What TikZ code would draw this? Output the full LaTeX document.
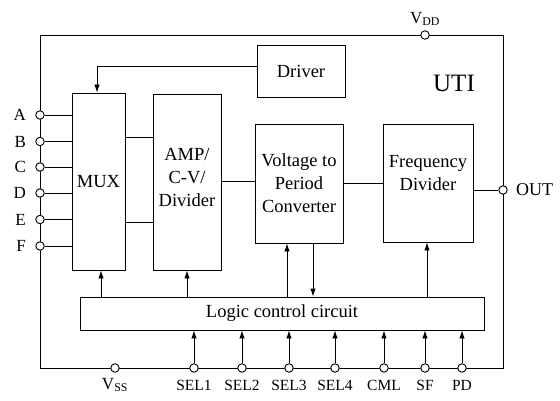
\documentclass[tikz,border=0pt]{standalone}
\usepackage{fontspec}
\setmainfont{Liberation Serif}
\usetikzlibrary{arrows.meta, positioning}

\tikzset{
  blk/.style={draw, inner sep=2pt, align=center, font=\fontsize{18.5}{23}\selectfont},
  blktext/.style={align=center, font=\fontsize{18.5}{23}\selectfont},
  pin/.style={circle, draw, fill=white, inner sep=0pt, minimum size=8.5pt},
  lbl/.style={font=\fontsize{17}{20}\selectfont, inner sep=1pt},
  sel/.style={font=\fontsize{15.5}{18}\selectfont, inner sep=1pt},
  arr/.style={-{Latex[length=8pt,width=5.5pt]}},
}

\begin{document}
\begin{tikzpicture}[x=1pt, y=-1pt, line width=0.9pt]
\useasboundingbox (0,0) rectangle (560,401);
\coordinate (tl) at (40,35);
\coordinate (br) at (503,368);
\draw (tl) rectangle (br);

\node[blk, minimum width=88, minimum height=52] (driver) at (301,71) {Driver};
\node[blk, minimum width=53, minimum height=177] (mux) at (98.5,181.5) {MUX};
\node[blk, minimum width=68, minimum height=176, label={[blktext, yshift=5pt]center:AMP/\\C-V/\\Divider}] (amp) at (187,182) {};
\node[blk, minimum width=88, minimum height=119] (vtp) at (299,183.5) {Voltage to\\Period\\Converter};
\node[blk, minimum width=90, minimum height=118, label={[blktext, yshift=10pt]center:Frequency\\Divider}] (fdiv) at (428,183) {};
\node[blk, minimum width=404, minimum height=33] (logic) at (282,313.5) {Logic control circuit};
\node[font=\fontsize{25}{30}\selectfont] (uti) at (454,83) {UTI};

\node[pin, label={[lbl, label distance=3]above:V\textsubscript{DD}}] (vdd) at (425,35) {};
\node[pin, label={[lbl, font=\fontsize{18}{20}\selectfont, label distance=7]right:OUT}] (out) at (503,190) {};
\node[pin, label={[lbl, label distance=4]below:V\textsubscript{SS}}] (vss) at (115,368) {};

\foreach \n/\y in {A/115,B/141.5,C/167,D/193,E/219.5,F/246} {
  \node[pin, label={[lbl, label distance=8]left:\n}] (in\n) at (40,\y) {};
  \draw (in\n) -- (in\n -| mux.west);
}

\foreach \n/\x in {SEL1/194,SEL2/242,SEL3/289,SEL4/335,CML/384,SF/425,PD/462} {
  \node[pin, label={[sel, label distance=6]below:\n}] (p\n) at (\x,368) {};
  \draw[arr] (p\n) -- (p\n |- logic.south);
}

\draw[arr] ([yshift=5pt]driver.west) -| ([xshift=-1.5pt]mux.north);
\draw (mux.east |- 0,137) -- (amp.west |- 0,137);
\draw (mux.east |- 0,222) -- (amp.west |- 0,222);
\draw (amp.east |- 0,181) -- (vtp.west |- 0,181);
\draw (vtp.east |- 0,183) -- (fdiv.west |- 0,183);
\draw (fdiv.east |- out) -- (out);

\foreach \t/\x in {mux/101,amp/187,vtp/287,fdiv/427}
  \draw[arr] (logic.north -| \x,0) -- (\t.south -| \x,0);
\draw[arr] (vtp.south -| 313,0) -- (logic.north -| 313,0);
\end{tikzpicture}
\end{document}
